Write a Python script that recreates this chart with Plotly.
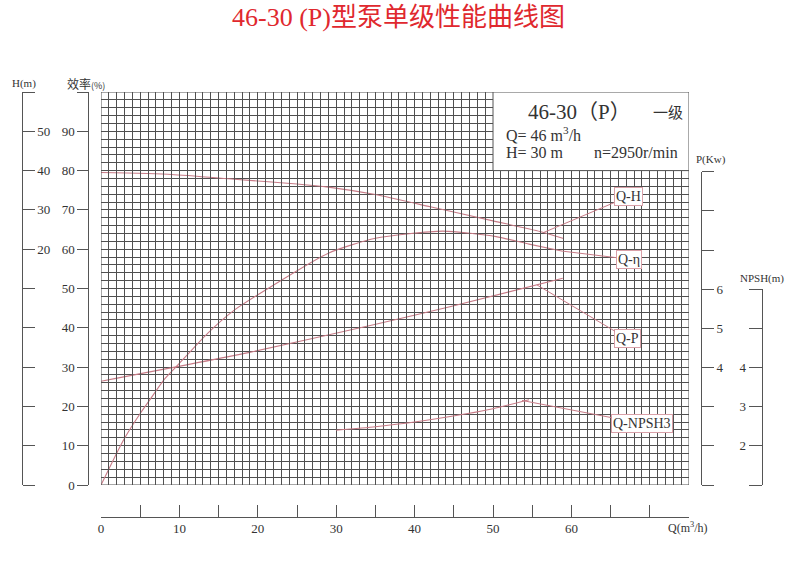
import plotly.graph_objects as go

# ---- performance data (flow Q in m3/h) ----
q_head = [0, 9, 17, 25, 29, 35, 42, 50, 56, 59]
head_m = [39.5, 39.0, 37.8, 36.6, 35.8, 33.9, 30.8, 27.2, 24.5, 22.7]

q_eff = [0, 2, 3, 5, 6.2, 8, 9.6, 13.6, 17, 21.3, 29, 35, 43.6, 50.4, 54.6, 58.9]
eff_pct = [0, 8.1, 11.9, 18.2, 21.6, 26.7, 30.1, 38.6, 44.5, 50.0, 59.0, 62.8, 64.6, 63.2, 61.3, 59.5]

q_power = [0, 18.8, 34.9, 44.5, 58.9]
power_kw = [3.65, 4.38, 5.10, 5.55, 6.28]

q_npsh = [30, 35, 40, 46.6, 50, 54.6]
npsh_m = [2.40, 2.49, 2.61, 2.82, 2.95, 3.18]

# curve labels and the point on each curve their leader line touches
label_names = ["Q-H", "Q-η", "Q-P", "Q-NPSH3"]
label_q = [56.4, 58.9, 55.6, 53.7]
label_val = [24.2, 59.5, 6.11, 3.16]

# tick labels
q_ticks = list(range(0, 76, 5))
q_ticktext = [str(v) if v % 10 == 0 and v <= 60 else " " for v in q_ticks]
eff_ticks = list(range(0, 101, 10))
eff_ticktext = [str(v) if v < 100 else " " for v in eff_ticks]
h_ticks = list(range(-40, 61, 10))
h_ticktext = [str(v) if 20 <= v <= 50 else " " for v in h_ticks]
p_ticks = list(range(1, 10))
p_ticktext = [str(v) if 4 <= v <= 6 else " " for v in p_ticks]
npsh_ticks = list(range(1, 7))
npsh_ticktext = [str(v) if 2 <= v <= 4 else " " for v in npsh_ticks]

W, H = 800, 570


def fx(px):
    return px / W


def fy(py):
    return 1 - py / H


CURVE = "#c77a86"
GRID = "#505050"
AX = "#555555"
TXT = "#333333"
SERIF = "Liberation Serif, Noto Sans CJK SC, serif"

fig = go.Figure()
line_style = dict(color=CURVE, width=1.1, shape="spline", smoothing=0.6)
fig.add_trace(go.Scatter(x=q_head, y=head_m, xaxis="x", yaxis="y3", mode="lines", line=line_style))
fig.add_trace(go.Scatter(x=q_eff, y=eff_pct, xaxis="x", yaxis="y", mode="lines", line=line_style))
fig.add_trace(go.Scatter(x=q_power, y=power_kw, xaxis="x", yaxis="y4", mode="lines", line=line_style))
fig.add_trace(go.Scatter(x=q_npsh, y=npsh_m, xaxis="x", yaxis="y5", mode="lines", line=line_style))

common = dict(
    showline=True, linecolor=AX, linewidth=1, zeroline=False,
    tickcolor=AX, tickwidth=1, automargin=False, fixedrange=True,
    tickfont=dict(family=SERIF, size=13, color=TXT), tickmode="array",
)

fig.update_layout(
    width=W, height=H,
    margin=dict(l=0, r=0, t=0, b=0),
    paper_bgcolor="white", plot_bgcolor="rgba(0,0,0,0)",
    showlegend=False, hovermode=False,
    xaxis=dict(
        **common, domain=[fx(101), fx(689)], range=[0, 75],
        anchor="free", position=fy(516.7), side="bottom",
        tickvals=q_ticks, ticktext=q_ticktext, ticks="inside", ticklen=12,
        showgrid=True, gridcolor=GRID, gridwidth=1,
        minor=dict(tickmode="array", tickvals=list(range(0, 76)), showgrid=True,
                   gridcolor=GRID, gridwidth=1, ticks=""),
    ),
    yaxis=dict(
        **common, domain=[fy(485), fy(92)], range=[0, 100],
        anchor="free", position=fx(88.3), side="left",
        tickvals=eff_ticks, ticktext=eff_ticktext, ticks="outside", ticklen=11,
        showgrid=True, gridcolor=GRID, gridwidth=1,
        minor=dict(tickmode="array", tickvals=list(range(0, 101, 2)), showgrid=True,
                   gridcolor=GRID, gridwidth=1, ticks=""),
    ),
    yaxis3=dict(
        **common, overlaying="y", range=[-40, 60],
        anchor="free", position=fx(21.7), side="right",
        tickvals=h_ticks, ticktext=h_ticktext, ticks="outside", ticklen=12,
        showgrid=False,
    ),
    yaxis4=dict(
        **common, domain=[fy(485), fy(171.7)], range=[1, 9],
        anchor="free", position=fx(701), side="right",
        tickvals=p_ticks, ticktext=p_ticktext, ticks="outside", ticklen=12,
        showgrid=False,
    ),
    yaxis5=dict(
        **common, domain=[fy(485), fy(289.3)], range=[1, 6],
        anchor="free", position=fx(761.7), side="left",
        tickvals=npsh_ticks, ticktext=npsh_ticktext, ticks="outside", ticklen=13,
        showgrid=False,
    ),
)

# grid frame and the white data box in the upper right corner
fig.add_shape(type="rect", xref="x", yref="y", x0=0, x1=75, y0=0, y1=100,
              line=dict(color=GRID, width=1), layer="above")
fig.add_shape(type="rect", xref="x", yref="y", x0=50, x1=75, y0=80, y1=100,
              line=dict(color=AX, width=1), fillcolor="white", layer="above")

# curve labels with leader lines
label_axes = ["y3", "y", "y4", "y5"]
label_offsets = [(85, -36), (66, 8), (91, 54), (120, 23)]
for name, q, v, ya, (ox, oy) in zip(label_names, label_q, label_val, label_axes, label_offsets):
    fig.add_annotation(
        x=q, y=v, xref="x", yref=ya, text=name, showarrow=True,
        ax=ox, ay=oy, arrowhead=0, arrowwidth=1, arrowcolor=CURVE, standoff=0,
        font=dict(family=SERIF, size=14, color=TXT),
        bgcolor="white", bordercolor="#d9a0a8", borderwidth=1, borderpad=1,
    )


def text(px, py, s, size, anchor="center", family=SERIF, color=TXT):
    fig.add_annotation(x=fx(px), y=fy(py), xref="paper", yref="paper", text=s,
                       showarrow=False, xanchor=anchor, yanchor="middle",
                       font=dict(family=family, size=size, color=color))


# title
text(398, 18, "46-30 (P)型泵单级性能曲线图", 26, color="#e0282e")

# model data box
text(526, 112, "46-30（P）", 21, anchor="left")
text(651, 112, "一级", 15, anchor="left", family="Noto Sans CJK SC")
text(504, 134, "Q= 46 m<sup>3</sup>/h", 16, anchor="left")
text(504, 153, "H= 30 m", 16, anchor="left")
text(680, 153, "n=2950r/min", 16, anchor="right")

# axis titles
text(24, 83, "H(m)", 11)
text(86, 83, "效率<span style='font-size:9px'>(%)</span>", 12, family="Noto Sans CJK SC, serif")
text(711, 159, "P(Kw)", 11)
text(762, 278, "NPSH(m)", 11)
text(688, 527, "Q(m<sup>3</sup>/h)", 12)

fig.write_html("out.html")
